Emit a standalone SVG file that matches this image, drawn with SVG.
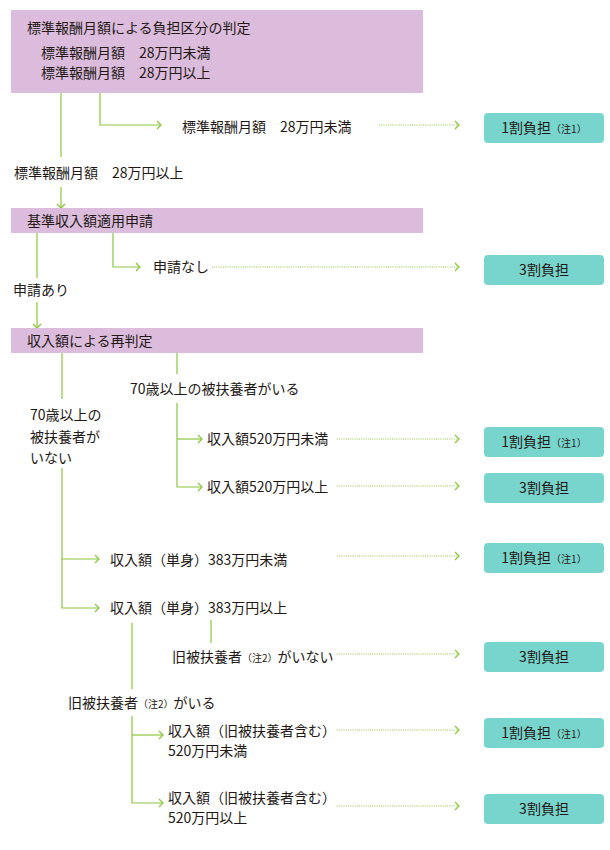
<svg xmlns="http://www.w3.org/2000/svg" width="610" height="850" viewBox="0 0 610 850">
<style>
text{font-family:"Noto Sans CJK JP","Noto Sans",sans-serif;font-size:14px;fill:#231815}
.note{font-size:10px}
.stage{fill:#dcbcdc}
.res{fill:#78d5cd}
.res-t{text-anchor:middle}
.ln{fill:none;stroke:#8cc63f;stroke-width:1.2}
.dot{fill:none;stroke:#8cc63f;stroke-width:1.2;stroke-dasharray:1 1.2}
</style>
<defs>
<marker id="chev" markerUnits="userSpaceOnUse" markerWidth="6" markerHeight="10" refX="5" refY="5" orient="auto" viewBox="0 0 6 10">
<path d="M1,1 L5,5 L1,9" fill="none" stroke="#8cc63f" stroke-width="1.3"/>
</marker>
</defs>
<rect width="610" height="850" fill="#ffffff"/>

<g id="connectors">
<path class="ln" d="M61,93 V157"/>
<path class="ln" d="M61,187 V208" marker-end="url(#chev)"/>
<path class="ln" d="M100,93 V125 H161" marker-end="url(#chev)"/>
<path class="dot" d="M379,125 H459" marker-end="url(#chev)"/>
<path class="ln" d="M37,233 V278"/>
<path class="ln" d="M37,302 V328" marker-end="url(#chev)"/>
<path class="ln" d="M113,233 V267 H140" marker-end="url(#chev)"/>
<path class="dot" d="M212,267 H459" marker-end="url(#chev)"/>
<path class="ln" d="M62,353 V399"/>
<path class="ln" d="M62,468 V608 H99" marker-end="url(#chev)"/>
<path class="ln" d="M62,559 H99" marker-end="url(#chev)"/>
<path class="ln" d="M177,353 V374"/>
<path class="ln" d="M177,403 V487 H202" marker-end="url(#chev)"/>
<path class="ln" d="M177,439 H202" marker-end="url(#chev)"/>
<path class="dot" d="M337,439 H459" marker-end="url(#chev)"/>
<path class="dot" d="M337,486 H459" marker-end="url(#chev)"/>
<path class="dot" d="M337,556 H459" marker-end="url(#chev)"/>
<path class="ln" d="M132,623 V689"/>
<path class="ln" d="M211,620 V643"/>
<path class="dot" d="M337,654 H459" marker-end="url(#chev)"/>
<path class="ln" d="M132,716 V803 H163" marker-end="url(#chev)"/>
<path class="ln" d="M132,735 H163" marker-end="url(#chev)"/>
<path class="dot" d="M337,730 H459" marker-end="url(#chev)"/>
<path class="dot" d="M337,806 H459" marker-end="url(#chev)"/>
</g>

<g id="stage1">
<rect class="stage" x="11" y="10" width="412" height="83"/>
<text x="27" y="33">標準報酬月額による負担区分の判定</text>
<text x="41" y="58">標準報酬月額　28万円未満</text>
<text x="41" y="78">標準報酬月額　28万円以上</text>
</g>
<g id="lbl-under28"><text x="182" y="132">標準報酬月額　28万円未満</text></g>
<g id="lbl-over28"><text x="14" y="178">標準報酬月額　28万円以上</text></g>

<g id="stage2">
<rect class="stage" x="11" y="208" width="412" height="25"/>
<text x="27" y="226">基準収入額適用申請</text>
</g>
<g id="lbl-noapply"><text x="153" y="272">申請なし</text></g>
<g id="lbl-apply"><text x="13" y="295">申請あり</text></g>

<g id="stage3">
<rect class="stage" x="11" y="328" width="412" height="25"/>
<text x="27" y="346">収入額による再判定</text>
</g>

<g id="lbl-70yes"><text x="130" y="394">70歳以上の被扶養者がいる</text></g>
<g id="lbl-70no">
<text x="30" y="420">70歳以上の</text>
<text x="30" y="442">被扶養者が</text>
<text x="30" y="463">いない</text>
</g>
<g id="lbl-520under"><text x="207" y="444">収入額520万円未満</text></g>
<g id="lbl-520over"><text x="207" y="492">収入額520万円以上</text></g>
<g id="lbl-383under"><text x="110" y="565">収入額（単身）383万円未満</text></g>
<g id="lbl-383over"><text x="110" y="613">収入額（単身）383万円以上</text></g>
<g id="lbl-oldno"><text x="172" y="662">旧被扶養者<tspan class="note">（注2）</tspan>がいない</text></g>
<g id="lbl-oldyes"><text x="68" y="708">旧被扶養者<tspan class="note">（注2）</tspan>がいる</text></g>
<g id="lbl-old-under">
<text x="168" y="736">収入額（旧被扶養者含む）</text>
<text x="168" y="756">520万円未満</text>
</g>
<g id="lbl-old-over">
<text x="168" y="803">収入額（旧被扶養者含む）</text>
<text x="168" y="823">520万円以上</text>
</g>

<g id="res1"><rect class="res" x="484" y="113" width="120" height="30" rx="4"/><text class="res-t" x="544" y="133">1割負担<tspan class="note">（注1）</tspan></text></g>
<g id="res2"><rect class="res" x="484" y="255" width="120" height="30" rx="4"/><text class="res-t" x="544" y="275">3割負担</text></g>
<g id="res3"><rect class="res" x="484" y="427" width="120" height="30" rx="4"/><text class="res-t" x="544" y="447">1割負担<tspan class="note">（注1）</tspan></text></g>
<g id="res4"><rect class="res" x="484" y="473" width="120" height="30" rx="4"/><text class="res-t" x="544" y="493">3割負担</text></g>
<g id="res5"><rect class="res" x="484" y="543" width="120" height="30" rx="4"/><text class="res-t" x="544" y="563">1割負担<tspan class="note">（注1）</tspan></text></g>
<g id="res6"><rect class="res" x="484" y="642" width="120" height="30" rx="4"/><text class="res-t" x="544" y="662">3割負担</text></g>
<g id="res7"><rect class="res" x="484" y="718" width="120" height="30" rx="4"/><text class="res-t" x="544" y="738">1割負担<tspan class="note">（注1）</tspan></text></g>
<g id="res8"><rect class="res" x="484" y="794" width="120" height="30" rx="4"/><text class="res-t" x="544" y="814">3割負担</text></g>
</svg>
